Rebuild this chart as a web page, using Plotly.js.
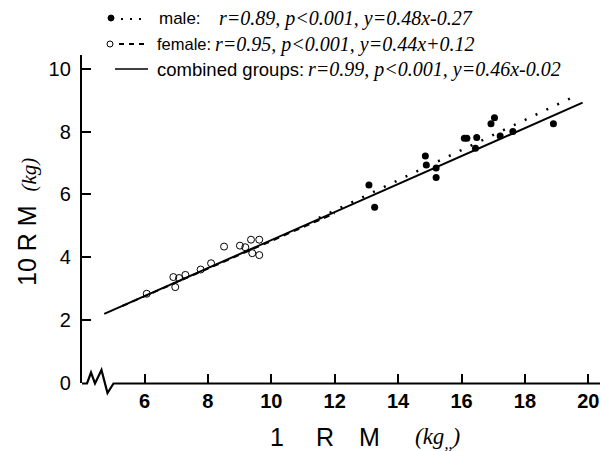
<!DOCTYPE html>
<html>
<head>
<meta charset="utf-8">
<script src="https://cdn.plot.ly/plotly-3.0.1.min.js"></script>
<style>html,body{margin:0;padding:0;background:#fff;}#chart{width:601px;height:451px;}</style>
</head>
<body>
<div id="chart"></div>
<script>
// Data
var femaleX = [6.07, 6.91, 7.09, 6.97, 7.29, 7.77, 8.10, 8.51, 9.01, 9.18, 9.36, 9.62, 9.40, 9.62];
var femaleY = [2.84, 3.37, 3.34, 3.05, 3.44, 3.61, 3.81, 4.34, 4.37, 4.32, 4.56, 4.56, 4.13, 4.07];
var maleX = [13.08, 13.26, 14.86, 14.89, 15.20, 15.20, 16.09, 16.17, 16.48, 16.44, 16.93, 17.04, 17.22, 17.62, 18.90];
var maleY = [6.30, 5.59, 7.22, 6.94, 6.84, 6.54, 7.79, 7.79, 7.81, 7.47, 8.25, 8.44, 7.86, 8.00, 8.25];
// regression lines (end points)
var combinedLineX = [4.73, 19.82];
var combinedLineY = [2.20, 8.92];
var femaleLineX = [5.3, 12.0];
var femaleLineY = [2.45, 5.40];
var maleLineX = [11.5, 19.5];
var maleLineY = [5.25, 9.09];
var xTicks = [6, 8, 10, 12, 14, 16, 18, 20];
var yTicks = [0, 2, 4, 6, 8, 10];
var legendLabels = ['male:', 'female:', 'combined groups:'];
var legendStats = ['r=0.89, p<0.001, y=0.48x-0.27', 'r=0.95, p<0.001, y=0.44x+0.12', 'r=0.99, p<0.001, y=0.46x-0.02'];
var xTitleParts = ['1', 'R', 'M'];
var yTitleParts = ['10 R M', '(kg)'];

var SANS = 'Liberation Sans, Arial, Helvetica, sans-serif';
var SERIF = 'Liberation Serif, Times New Roman, serif';

// plot area in pixels
var L = 82, R = 600, T = 55, B = 383, W = 601, H = 451;
var PXU = 31.7;            // pixels per x unit
var XMIN = 6 - (144.5 - L) / PXU;
var PYU = 31.43;           // pixels per y unit
function px(x){ return (x - L) / (R - L); }
function py(y){ return (B - y) / (B - T); }

var traces = [
  {x: combinedLineX, y: combinedLineY, mode: 'lines', line: {color: '#000', width: 2}, hoverinfo: 'skip'},
  {x: femaleLineX, y: femaleLineY, mode: 'lines', line: {color: '#000', width: 2, dash: '6px,5px'}, hoverinfo: 'skip'},
  {x: maleLineX, y: maleLineY, mode: 'lines', line: {color: '#000', width: 2.5, dash: '2px,10px'}, hoverinfo: 'skip'},
  {x: femaleX, y: femaleY, mode: 'markers', marker: {symbol: 'circle-open', size: 7, color: '#000', line: {width: 1, color: '#000'}}},
  {x: maleX, y: maleY, mode: 'markers', marker: {symbol: 'circle', size: 7, color: '#000'}}
];

var legendY = [18, 44, 69];
var annotations = [];
var shapes = [];
function ann(x, y, text, font, opts){
  var a = {xref: 'paper', yref: 'paper', x: px(x), y: py(y), xanchor: 'left', yanchor: 'middle', showarrow: false, text: text, font: font};
  if (opts) for (var k in opts) a[k] = opts[k];
  annotations.push(a);
}
// legend rows
ann(157, legendY[0], legendLabels[0], {family: SANS, size: 17, color: '#000'});
ann(217, legendY[0], legendStats[0], {family: SERIF, size: 20, color: '#000', style: 'italic'});
ann(155, legendY[1], legendLabels[1], {family: SANS, size: 16.5, color: '#000'});
ann(213, legendY[1], legendStats[1], {family: SERIF, size: 20, color: '#000', style: 'italic'});
ann(155, legendY[2], legendLabels[2], {family: SANS, size: 18.5, color: '#000'});
ann(306, legendY[2], legendStats[2], {family: SERIF, size: 20, color: '#000', style: 'italic'});
// legend symbols
shapes.push({type: 'circle', xref: 'paper', yref: 'paper', x0: px(108), x1: px(114), y0: py(legendY[0] + 3), y1: py(legendY[0] - 3), fillcolor: '#000', line: {color: '#000', width: 1}});
shapes.push({type: 'line', xref: 'paper', yref: 'paper', x0: px(121), x1: px(146), y0: py(legendY[0] + 1), y1: py(legendY[0] + 1), line: {color: '#000', width: 2, dash: '2px,7px'}});
shapes.push({type: 'circle', xref: 'paper', yref: 'paper', x0: px(107), x1: px(113), y0: py(legendY[1] + 3), y1: py(legendY[1] - 3), line: {color: '#000', width: 1}});
shapes.push({type: 'line', xref: 'paper', yref: 'paper', x0: px(119), x1: px(146), y0: py(legendY[1]), y1: py(legendY[1]), line: {color: '#000', width: 2, dash: '5px,5px'}});
shapes.push({type: 'line', xref: 'paper', yref: 'paper', x0: px(115), x1: px(148), y0: py(legendY[2]), y1: py(legendY[2]), line: {color: '#000', width: 1.5}});
// x axis with break
var zz = [[82,383.5],[87,383.5],[91,372.5],[95,383.5],[101.5,370],[107.5,393],[113.5,383.5],[R,383.5]];
var path = zz.map(function(p, i){ return (i ? 'L' : 'M') + px(p[0]).toFixed(4) + ',' + py(p[1]).toFixed(4); }).join(' ');
shapes.push({type: 'path', xref: 'paper', yref: 'paper', path: path, line: {color: '#000', width: 2.2}});

// axis titles
annotations.push({xref: 'paper', yref: 'paper', x: px(27), y: py(222), xanchor: 'center', yanchor: 'middle', textangle: -90, showarrow: false,
  text: yTitleParts[0] + '  <span style="font-family:' + SERIF + ';font-style:italic;font-size:21px">' + yTitleParts[1] + '</span>',
  font: {family: SANS, size: 25, color: '#000'}});
ann(268, 437, xTitleParts[0], {family: SANS, size: 25, color: '#000'});
ann(314, 437, xTitleParts[1], {family: SANS, size: 25, color: '#000'});
ann(357, 437, xTitleParts[2], {family: SANS, size: 25, color: '#000'});
ann(413, 438, '(kg<sub>,,</sub>)', {family: SERIF, size: 23, color: '#000', style: 'italic'});

var layout = {
  width: W, height: H,
  margin: {l: L, r: W - R, t: T, b: H - B, pad: 0},
  paper_bgcolor: '#fff', plot_bgcolor: '#fff',
  showlegend: false,
  xaxis: {range: [XMIN, XMIN + (R - L) / PXU], tickvals: xTicks, ticktext: xTicks.map(String),
    ticks: 'inside', ticklen: 9, tickwidth: 2, tickcolor: '#000', showline: false, showgrid: false, zeroline: false,
    ticklabelstandoff: 4,
    tickfont: {family: SANS, size: 20, color: '#000', weight: 'bold'}, fixedrange: true},
  yaxis: {range: [0, (B - T) / PYU], tickvals: yTicks, ticktext: yTicks.map(String),
    ticks: 'inside', ticklen: 9, tickwidth: 2, tickcolor: '#000', showline: true, linewidth: 2.2, linecolor: '#000',
    ticklabelstandoff: 5,
    showgrid: false, zeroline: false, tickfont: {family: SANS, size: 20, color: '#000'}, fixedrange: true},
  annotations: annotations,
  shapes: shapes
};

Plotly.newPlot('chart', traces, layout, {displayModeBar: false, staticPlot: true});
</script>
</body>
</html>
